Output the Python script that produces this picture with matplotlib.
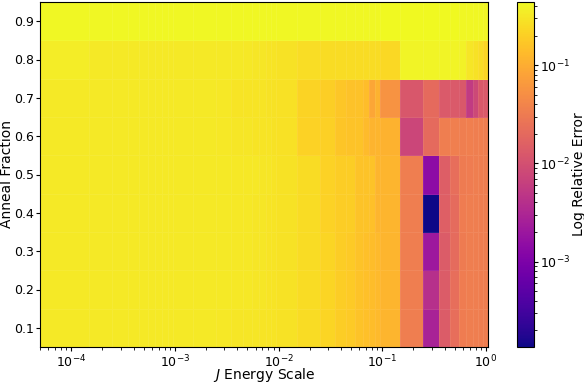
import numpy as np
import matplotlib
matplotlib.use("Agg")
import matplotlib.pyplot as plt
from matplotlib.colors import LogNorm

# ── Data ──────────────────────────────────────────────────────────────────────
J_SCALE = [1e-4, 2e-4, 3e-4, 4e-4, 5e-4, 6e-4, 7e-4, 8e-4, 9e-4,
           1e-3, 2e-3, 3e-3, 4e-3, 5e-3, 6e-3, 7e-3, 8e-3, 9e-3,
           0.01, 0.02, 0.03, 0.04, 0.05, 0.06, 0.07, 0.08, 0.09,
           0.1, 0.2, 0.3, 0.4, 0.5, 0.6, 0.7, 0.8, 0.9, 1.0]
ANNEAL = [0.1, 0.2, 0.3, 0.4, 0.5, 0.6, 0.7, 0.8, 0.9]

# relative error, one row per anneal fraction (columns follow J_SCALE)
err_01 = [0.33, 0.33, 0.33, 0.33, 0.33, 0.33, 0.33, 0.33, 0.33,
          0.33, 0.33, 0.32, 0.31, 0.31, 0.31, 0.30, 0.30, 0.30,
          0.29, 0.25, 0.22, 0.19, 0.18, 0.16, 0.15, 0.14, 0.13,
          0.12, 0.034, 0.0028, 0.014, 0.022, 0.032, 0.033, 0.034, 0.034, 0.034]
err_02 = [0.33, 0.33, 0.33, 0.33, 0.33, 0.33, 0.33, 0.33, 0.33,
          0.33, 0.33, 0.33, 0.32, 0.32, 0.31, 0.31, 0.30, 0.30,
          0.29, 0.25, 0.22, 0.19, 0.18, 0.16, 0.15, 0.14, 0.13,
          0.12, 0.034, 0.0040, 0.014, 0.022, 0.032, 0.033, 0.034, 0.034, 0.034]
err_03 = [0.33, 0.33, 0.33, 0.33, 0.33, 0.33, 0.33, 0.33, 0.33,
          0.33, 0.33, 0.33, 0.32, 0.32, 0.31, 0.31, 0.30, 0.30,
          0.29, 0.25, 0.22, 0.19, 0.18, 0.16, 0.15, 0.14, 0.13,
          0.12, 0.034, 0.0021, 0.014, 0.021, 0.031, 0.033, 0.034, 0.034, 0.034]
err_04 = [0.33, 0.33, 0.33, 0.33, 0.33, 0.33, 0.33, 0.33, 0.33,
          0.33, 0.33, 0.33, 0.32, 0.32, 0.31, 0.31, 0.30, 0.30,
          0.29, 0.25, 0.21, 0.19, 0.19, 0.16, 0.16, 0.15, 0.12,
          0.12, 0.034, 0.000135, 0.015, 0.021, 0.032, 0.033, 0.034, 0.034, 0.034]
err_05 = [0.33, 0.33, 0.33, 0.33, 0.33, 0.33, 0.33, 0.33, 0.33,
          0.33, 0.33, 0.33, 0.32, 0.32, 0.32, 0.31, 0.31, 0.30,
          0.29, 0.25, 0.21, 0.19, 0.19, 0.16, 0.16, 0.16, 0.12,
          0.12, 0.034, 0.0014, 0.0147, 0.022, 0.031, 0.032, 0.033, 0.034, 0.034]
err_06 = [0.33, 0.33, 0.33, 0.33, 0.33, 0.33, 0.33, 0.33, 0.33,
          0.33, 0.33, 0.32, 0.31, 0.31, 0.30, 0.30, 0.30, 0.29,
          0.28, 0.21, 0.20, 0.165, 0.16, 0.16, 0.135, 0.115, 0.12,
          0.113, 0.0075, 0.0205, 0.034, 0.035, 0.034, 0.035, 0.034, 0.035, 0.034]
err_07 = [0.33, 0.33, 0.33, 0.33, 0.33, 0.33, 0.33, 0.33, 0.33,
          0.33, 0.33, 0.32, 0.30, 0.30, 0.30, 0.30, 0.29, 0.29,
          0.28, 0.215, 0.195, 0.17, 0.155, 0.155, 0.14, 0.087, 0.113,
          0.055, 0.0123, 0.0205, 0.013, 0.0128, 0.0125, 0.0055, 0.0082, 0.0125, 0.013]
err_08 = [0.35, 0.33, 0.33, 0.33, 0.33, 0.33, 0.33, 0.33, 0.33,
          0.33, 0.33, 0.33, 0.33, 0.32, 0.31, 0.31, 0.30, 0.30,
          0.29, 0.26, 0.25, 0.25, 0.25, 0.25, 0.25, 0.25, 0.25,
          0.24, 0.39, 0.39, 0.39, 0.39, 0.38, 0.31, 0.29, 0.26, 0.22]
err_09 = [0.42, 0.42, 0.42, 0.42, 0.42, 0.42, 0.42, 0.42, 0.42,
          0.42, 0.42, 0.42, 0.42, 0.42, 0.42, 0.42, 0.42, 0.42,
          0.42, 0.42, 0.42, 0.42, 0.42, 0.42, 0.42, 0.42, 0.42,
          0.43, 0.44, 0.43, 0.43, 0.43, 0.42, 0.42, 0.42, 0.42, 0.41]

# ── Plot ──────────────────────────────────────────────────────────────────────
rel_err = np.array([err_01, err_02, err_03, err_04, err_05,
                    err_06, err_07, err_08, err_09])

fig = plt.figure(figsize=(5.84, 3.82), dpi=100)
ax = fig.add_axes([40 / 584, 1 - 347 / 382, 448 / 584, 345 / 382])
cax = fig.add_axes([517 / 584, 1 - 347 / 382, 17 / 584, 345 / 382])

mesh = ax.pcolormesh(J_SCALE, ANNEAL, rel_err, shading="nearest",
                     cmap="plasma", norm=LogNorm(),
                     edgecolors=(1, 1, 1, 0.07), linewidth=0.4)
ax.set_xscale("log")
ax.set_xlim(5e-5, 1.05)
ax.set_ylim(0.05, 0.95)
ax.set_yticks(ANNEAL)
ax.set_xlabel(r"$J$ Energy Scale", fontsize=10)
ax.xaxis.set_label_coords(0.5, -0.056)
ax.set_ylabel("Anneal Fraction", fontsize=10, labelpad=0)
ax.tick_params(labelsize=9, pad=1.5, length=3)

cb = fig.colorbar(mesh, cax=cax)
cb.set_label("Log Relative Error", fontsize=10, labelpad=1)
cb.ax.tick_params(labelsize=9, pad=1.5, length=3)

plt.savefig("out.png", dpi=100)
